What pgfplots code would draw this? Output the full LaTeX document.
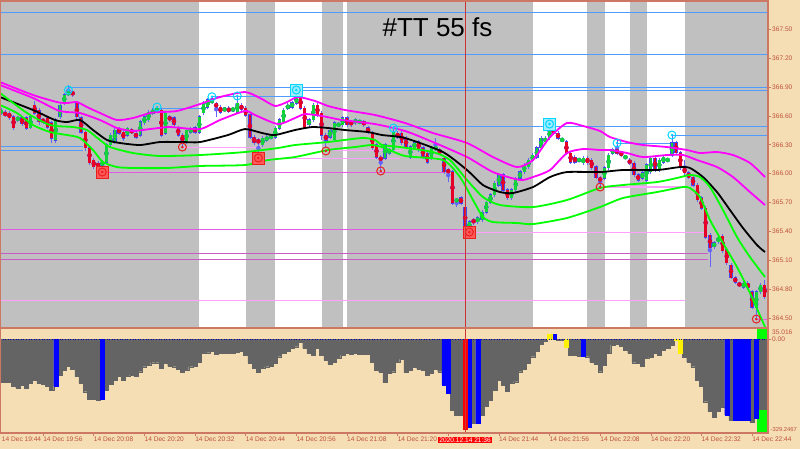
\documentclass[border=0pt]{standalone}
\usepackage{pgfplots}
\pgfplotsset{compat=1.18}
\usepackage{pgfplotstable}
\usepackage{fontspec}
\setmainfont{Liberation Sans}
\definecolor{wheat}{RGB}{245,222,179}
\definecolor{chartgray}{RGB}{192,192,192}
\definecolor{framered}{RGB}{205,120,100}
\definecolor{lbl}{RGB}{190,80,60}
\definecolor{hblue}{RGB}{80,155,255}
\definecolor{hpink}{RGB}{255,160,255}
\definecolor{hmag}{RGB}{225,90,225}
\definecolor{hviol}{RGB}{200,90,200}
\definecolor{indmag}{RGB}{255,0,255}
\definecolor{indgreen}{RGB}{0,255,0}
\definecolor{cgreen}{RGB}{20,210,60}
\definecolor{cred}{RGB}{230,0,40}
\definecolor{cblue}{RGB}{70,70,240}
\definecolor{wick}{RGB}{100,100,250}
\definecolor{histgray}{RGB}{100,100,100}
\definecolor{markcyan}{RGB}{0,215,255}
\definecolor{markcyanfill}{RGB}{160,235,255}
\definecolor{markred}{RGB}{235,30,30}
\definecolor{markredfill}{RGB}{255,90,90}
\definecolor{cursor}{RGB}{205,50,50}
\tikzset{tlbl/.style={font=\fontsize{6.6}{8}\selectfont, text=lbl}}
\pgfplotstableread{
t o h l c k
2 366.64 366.68 366.61 366.65 1
3 366.63 366.66 366.59 366.61 0
4 366.63 366.65 366.56 366.58 0
5 366.59 366.61 366.45 366.48 0
6 366.56 366.60 366.54 366.58 1
7 366.58 366.60 366.50 366.52 0
8 366.58 366.60 366.45 366.47 0
9 366.48 366.61 366.46 366.59 1
10 366.71 366.75 366.61 366.63 0
11 366.66 366.68 366.51 366.54 0
12 366.56 366.58 366.52 366.54 0
13 366.58 366.60 366.46 366.48 0
14 366.53 366.55 366.32 366.37 0
15 366.35 366.58 366.32 366.56 1
16 366.59 366.73 366.57 366.71 1
17 366.73 366.84 366.71 366.82 1
18 366.83 366.92 366.81 366.84 1
19 366.85 366.87 366.80 366.82 0
20 366.73 366.76 366.57 366.59 0
21 366.58 366.60 366.41 366.43 0
22 366.43 366.45 366.24 366.27 0
23 366.27 366.29 366.09 366.11 0
24 366.14 366.16 366.05 366.07 0
25 366.11 366.13 366.05 366.07 0
26 366.09 366.14 366.04 366.12 1
27 366.12 366.32 366.10 366.30 1
28 366.30 366.42 366.28 366.40 1
29 366.33 366.47 366.31 366.45 1
30 366.47 366.49 366.40 366.42 0
31 366.43 366.45 366.34 366.37 0
32 366.40 366.49 366.38 366.47 1
33 366.45 366.47 366.41 366.43 0
34 366.42 366.44 366.36 366.38 0
35 366.40 366.56 366.38 366.54 1
36 366.53 366.61 366.51 366.59 1
37 366.56 366.66 366.54 366.64 1
38 366.63 366.68 366.61 366.66 1
39 366.65 366.70 366.63 366.68 1
40 366.66 366.68 366.38 366.40 0
41 366.42 366.65 366.40 366.63 1
42 366.59 366.61 366.54 366.56 0
43 366.58 366.60 366.49 366.51 0
44 366.48 366.50 366.38 366.40 0
45 366.40 366.42 366.28 366.33 0
46 366.33 366.47 366.31 366.45 1
47 366.43 366.49 366.41 366.47 1
48 366.48 366.50 366.41 366.43 0
49 366.43 366.61 366.41 366.59 1
50 366.63 366.75 366.61 366.73 1
51 366.69 366.79 366.67 366.77 1
52 366.74 366.81 366.72 366.77 1
53 366.73 366.75 366.59 366.69 0
54 366.69 366.71 366.62 366.64 0
55 366.665 366.69 366.65 366.67 1
56 366.68 366.70 366.63 366.65 0
57 366.665 366.69 366.64 366.67 1
58 366.64 366.81 366.62 366.73 1
59 366.71 366.73 366.65 366.67 0
60 366.68 366.70 366.59 366.61 0
61 366.61 366.63 366.36 366.38 0
62 366.38 366.40 366.30 366.32 0
63 366.35 366.37 366.16 366.32 0
64 366.30 366.39 366.28 366.37 1
65 366.35 366.40 366.33 366.38 1
66 366.38 366.40 366.36 366.385 1
67 366.38 366.49 366.36 366.47 1
68 366.47 366.58 366.45 366.56 1
69 366.54 366.68 366.52 366.66 1
70 366.68 366.73 366.66 366.71 1
71 366.69 366.76 366.67 366.74 1
72 366.73 366.87 366.71 366.80 1
73 366.80 366.83 366.66 366.68 0
74 366.68 366.70 366.46 366.48 0
75 366.51 366.58 366.49 366.56 1
76 366.56 366.73 366.54 366.71 1
77 366.71 366.73 366.59 366.61 0
78 366.63 366.65 366.35 366.40 0
79 366.40 366.42 366.27 366.35 0
80 366.38 366.47 366.36 366.45 1
81 366.35 366.55 366.33 366.53 1
82 366.505 366.53 366.49 366.51 1
83 366.51 366.60 366.49 366.58 1
84 366.58 366.60 366.49 366.51 0
85 366.54 366.56 366.49 366.51 0
86 366.53 366.58 366.51 366.56 1
87 366.535 366.56 366.52 366.54 1
88 366.54 366.56 366.49 366.51 0
89 366.48 366.50 366.41 366.43 0
90 366.42 366.44 366.25 366.27 0
91 366.30 366.32 366.15 366.17 0
92 366.17 366.19 366.04 366.14 0
93 366.16 366.32 366.14 366.30 1
94 366.21 366.27 366.19 366.25 1
95 366.25 366.46 366.23 366.43 1
96 366.42 366.44 366.36 366.38 0
97 366.42 366.44 366.30 366.32 0
98 366.37 366.39 366.26 366.28 0
99 366.17 366.30 366.15 366.28 1
100 366.27 366.34 366.25 366.32 1
101 366.33 366.35 366.23 366.25 0
102 366.27 366.29 366.15 366.17 0
103 366.21 366.23 366.10 366.12 0
104 366.16 366.29 366.14 366.27 1
105 366.25 366.37 366.23 366.28 1
106 366.25 366.27 366.19 366.21 0
107 366.16 366.18 366.00 366.02 0
108 366.04 366.06 365.91 366.01 0
109 366.02 366.04 365.67 365.69 0
110 365.72 365.74 365.65 365.725 1
111 365.75 365.77 365.67 365.69 0
112 365.65 365.67 365.41 365.43 0
113 365.43 365.52 365.40 365.50 1
114 365.52 365.54 365.47 365.49 0
115 365.50 365.56 365.48 365.54 1
116 365.52 365.62 365.50 365.60 1
117 365.60 365.72 365.58 365.70 1
118 365.70 365.80 365.68 365.78 1
119 365.78 365.92 365.76 365.90 1
120 365.88 366.01 365.86 365.99 1
121 365.99 366.01 365.81 365.83 0
122 365.83 365.85 365.73 365.75 0
123 365.75 365.85 365.73 365.83 1
124 365.83 365.97 365.81 365.95 1
125 365.95 366.04 365.93 366.02 1
126 366.02 366.11 366.00 366.09 1
127 366.07 366.16 366.05 366.14 1
128 366.14 366.21 366.12 366.19 1
129 366.17 366.29 366.15 366.27 1
130 366.27 366.39 366.25 366.37 1
131 366.33 366.39 366.31 366.37 1
132 366.37 366.53 366.35 366.45 1
133 366.45 366.47 366.40 366.42 0
134 366.42 366.44 366.35 366.37 0
135 366.35 366.37 366.33 366.355 1
136 366.33 366.35 366.19 366.21 0
137 366.21 366.23 366.10 366.12 0
138 366.17 366.19 366.10 366.12 0
139 366.14 366.16 366.12 366.145 1
140 366.11 366.18 366.09 366.16 1
141 366.16 366.18 366.09 366.11 0
142 366.14 366.16 366.04 366.06 0
143 366.07 366.09 365.94 365.96 0
144 365.95 365.97 365.86 365.93 0
145 365.95 366.08 365.93 366.06 1
146 366.06 366.21 366.04 366.19 1
147 366.21 366.27 366.19 366.25 1
148 366.25 366.35 366.19 366.21 0
149 366.22 366.24 366.17 366.19 0
150 366.17 366.19 366.15 366.175 1
151 366.14 366.16 366.09 366.11 0
152 366.11 366.13 365.97 365.99 0
153 365.99 366.01 365.91 365.93 0
154 365.95 366.03 365.93 366.01 1
155 365.93 366.11 365.91 366.09 1
156 366.02 366.18 366.00 366.16 1
157 366.16 366.18 366.02 366.04 0
158 366.04 366.16 366.02 366.14 1
159 366.12 366.19 366.10 366.17 1
160 366.14 366.16 366.12 366.145 1
161 366.19 366.41 366.17 366.32 1
162 366.32 366.34 366.20 366.22 0
163 366.22 366.24 366.04 366.06 0
164 366.06 366.14 365.99 366.01 0
165 366.01 366.03 365.94 365.96 0
166 365.96 365.98 365.86 365.88 0
167 365.88 365.90 365.71 365.73 0
168 365.75 365.77 365.62 365.64 0
169 365.64 365.66 365.32 365.34 0
170 365.36 365.38 365.03 365.23 0
171 365.24 365.30 365.22 365.28 1
172 365.29 365.36 365.27 365.34 1
173 365.35 365.37 365.18 365.20 0
174 365.21 365.23 365.05 365.07 0
175 365.05 365.07 364.90 364.92 0
176 364.92 364.94 364.85 364.87 0
177 364.85 364.87 364.83 364.845 0
178 364.82 364.88 364.80 364.86 1
179 364.86 364.88 364.79 364.81 0
180 364.77 364.79 364.59 364.61 0
181 364.61 364.79 364.50 364.77 1
182 364.77 364.86 364.75 364.84 1
183 364.84 364.89 364.70 364.72 0
}\candles
% col: 0 gray, 1 blue, 2 red, 3 yellow
\pgfplotstableread{
t v col
2 -152 0
3 -152 0
4 -152 0
5 -166 0
6 -172 0
7 -160 0
8 -172 0
9 -155 0
10 -143 0
11 -155 0
12 -157 0
13 -166 0
14 -178 0
15 -164 1
16 -125 0
17 -108 0
18 -93 0
19 -106 0
20 -131 0
21 -155 0
22 -184 0
23 -210 0
24 -211 0
25 -213 0
26 -211 1
27 -178 0
28 -157 0
29 -143 0
30 -131 0
31 -143 0
32 -131 0
33 -125 0
34 -131 0
35 -114 0
36 -96 0
37 -90 0
38 -82 0
39 -82 0
40 -102 0
41 -84 0
42 -94 0
43 -96 0
44 -106 0
45 -116 0
46 -108 0
47 -96 0
48 -94 0
49 -79 0
50 -49 0
51 -47 0
52 -41 0
53 -52 0
54 -49 0
55 -49 0
56 -49 0
57 -49 0
58 -44 0
59 -41 0
60 -55 0
61 -84 0
62 -102 0
63 -116 0
64 -100 0
65 -96 0
66 -93 0
67 -84 0
68 -61 0
69 -49 0
70 -43 0
71 -32 0
72 -26 0
73 -11 0
74 -32 0
75 -49 0
76 -55 0
77 -32 0
78 -55 0
79 -73 0
80 -88 0
81 -79 0
82 -67 0
83 -55 0
84 -49 0
85 -53 0
86 -49 0
87 -53 0
88 -53 0
89 -53 0
90 -79 0
91 -108 0
92 -116 0
93 -152 0
94 -120 0
95 -114 0
96 -79 0
97 -70 0
98 -117 0
99 -108 0
100 -98 0
101 -106 0
102 -110 0
103 -125 0
104 -120 0
105 -106 0
106 -114 0
107 -160 1
108 -188 1
109 -248 0
110 -266 0
111 -266 0
112 -316 2
113 -309 1
114 -295 0
115 -295 1
116 -266 0
117 -234 0
118 -213 0
119 -178 0
120 -143 0
121 -160 0
122 -181 0
123 -155 0
124 -149 0
125 -114 0
126 -106 0
127 -84 0
128 -61 0
129 -43 0
130 -16 0
131 -8 0
132 18 3
133 18 1
134 -4 0
135 -3 0
136 -26 3
137 -55 0
138 -55 0
139 -59 0
140 -59 1
141 -61 0
142 -79 0
143 -87 0
144 -114 0
145 -90 0
146 -49 0
147 -20 0
148 -16 0
149 -23 0
150 -38 0
151 -49 0
152 -82 0
153 -84 0
154 -94 0
155 -67 0
156 -63 0
157 -49 0
158 -55 0
159 -38 0
160 -32 0
161 -20 0
162 -2 3
163 -49 3
164 -63 0
165 -79 0
166 -96 0
167 -143 0
168 -166 0
169 -219 0
170 -254 0
171 -274 0
172 -254 0
173 -239 0
174 -266 1
175 -283 0
176 -283 1
177 -283 1
178 -283 1
179 -283 1
180 -292 0
181 -278 1
182 -246 0
183 -246 0
}\hist
\begin{document}
\begin{tikzpicture}[x=1pt,y=1pt]
\useasboundingbox (0,0) rectangle (800,449);
\fill[wheat] (0,0) rectangle (800,449);
% ---------------- price panel ----------------
\begin{axis}[
  at={(0pt,121pt)}, anchor=south west, scale only axis,
  width=768pt, height=327pt,
  xmin=1.78, xmax=183.77, ymin=364.394, ymax=367.795,
  axis background/.style={fill=chartgray},
  axis line style={draw=framered, line width=1.2pt},
  axis on top,
  clip mode=individual,
  xtick=\empty,
  ytick={364.5,364.8,365.1,365.4,365.7,366.0,366.3,366.6,366.9,367.2,367.5},
  yticklabels={364.50,364.80,365.10,365.40,365.70,366.00,366.30,366.60,366.90,367.20,367.50},
  ytick pos=right, tick align=outside, major tick length=3pt,
  tick style={draw=framered, line width=0.6pt},
  yticklabel style={tlbl, inner xsep=1pt},
]
% session bands
\addplot[fill=white, draw=none, forget plot] coordinates {(48.93,364) (60.07,364) (60.07,368) (48.93,368)} -- cycle;
\addplot[fill=white, draw=none, forget plot] coordinates {(66.94,364) (78.08,364) (78.08,368) (66.94,368)} -- cycle;
\addplot[fill=white, draw=none, forget plot] coordinates {(83.06,364) (84.00,364) (84.00,368) (83.06,368)} -- cycle;
\addplot[fill=white, draw=none, forget plot] coordinates {(128.0,364) (140.88,364) (140.88,368) (128.0,368)} -- cycle;
\addplot[fill=white, draw=none, forget plot] coordinates {(145.07,364) (151.07,364) (151.07,368) (145.07,368)} -- cycle;
\addplot[fill=white, draw=none, forget plot] coordinates {(155.02,364) (164.03,364) (164.03,368) (155.02,368)} -- cycle;
% horizontal levels
\addplot[hblue, line width=0.8pt] coordinates {(1.78,367.677) (183.77,367.677)};
\addplot[hblue, line width=0.8pt] coordinates {(1.78,367.240) (183.77,367.240)};
\addplot[hblue, line width=0.8pt] coordinates {(18,366.897) (183.77,366.897)};
\addplot[hblue, line width=0.8pt] coordinates {(72,366.869) (183.77,366.869)};
\addplot[hblue, line width=0.8pt] coordinates {(39,366.682) (49.7,366.682)};
\addplot[hblue, line width=0.8pt] coordinates {(52,366.799) (71.7,366.799)};
\addplot[hblue, line width=0.8pt] coordinates {(95,366.489) (183.77,366.489)};
\addplot[hblue, line width=0.8pt] coordinates {(161,366.398) (183.77,366.398)};
\addplot[hblue, line width=0.8pt] coordinates {(148,366.318) (161,366.318)};
\addplot[hblue, line width=0.8pt] coordinates {(1.78,366.279) (21.4,366.279)};
\addplot[hblue, line width=0.8pt] coordinates {(1.78,366.245) (21.4,366.245)};
\addplot[hmag, line width=1pt] coordinates {(26,366.013) (107.2,366.013)};
\addplot[hpink, line width=1.5pt] coordinates {(45,366.269) (63.4,366.269)};
\addplot[hpink, line width=1.5pt] coordinates {(63,366.159) (96.5,366.159)};
\addplot[hpink, line width=1.5pt] coordinates {(79,366.238) (97,366.238)};
\addplot[hpink, line width=1.5pt] coordinates {(144,365.863) (165,365.863)};
\addplot[hmag, line width=1pt] coordinates {(1.78,365.420) (112,365.420)};
\addplot[hpink, line width=1.5pt] coordinates {(113,365.389) (169,365.389)};
\addplot[hviol, line width=0.8pt] coordinates {(1.78,365.174) (169.6,365.174)};
\addplot[hviol, line width=0.8pt] coordinates {(1.78,365.108) (169.6,365.108)};
\addplot[hpink, line width=1.5pt] coordinates {(1.78,364.678) (164.1,364.678)};
\addplot[hmag, line width=1pt] coordinates {(181,364.484) (183.77,364.484)};
% candles: wicks, outlines, bodies
\addplot[color=wick, only marks, mark=none, error bars/.cd, y dir=both, y explicit, error mark=none,
  error bar style={color=wick, line width=0.8pt}]
  table[x=t, y expr={(\thisrow{h}+\thisrow{l})/2}, y error expr={(\thisrow{h}-\thisrow{l})/2}] {\candles};
\addplot[color=cblue, only marks, mark=none, error bars/.cd, y dir=both, y explicit, error mark=none,
  error bar style={color=cblue, line width=3.3pt}]
  table[x=t, y expr={(\thisrow{o}+\thisrow{c})/2}, y error expr={abs(\thisrow{o}-\thisrow{c})/2+0.005}] {\candles};
\addplot[color=cgreen, only marks, mark=none, restrict expr to domain={\thisrow{k}}{0.5:1.5}, error bars/.cd, y dir=both, y explicit, error mark=none,
  error bar style={color=cgreen, line width=2.6pt}]
  table[x=t, y expr={(\thisrow{o}+\thisrow{c})/2}, y error expr={abs(\thisrow{o}-\thisrow{c})/2}] {\candles};
\addplot[color=cred, only marks, mark=none, restrict expr to domain={\thisrow{k}}{-0.5:0.5}, error bars/.cd, y dir=both, y explicit, error mark=none,
  error bar style={color=cred, line width=2.6pt}]
  table[x=t, y expr={(\thisrow{o}+\thisrow{c})/2}, y error expr={abs(\thisrow{o}-\thisrow{c})/2}] {\candles};
% envelope / moving average lines
\addplot[indmag, line width=1.8pt, smooth, tension=0.4] table {
t p
1.78 366.952
9.60 366.817
15.28 366.744
17.65 366.734
20.02 366.744
22.39 366.692
25.47 366.630
29.50 366.557
33.29 366.578
37.32 366.630
39.69 366.640
43.72 366.651
49.17 366.723
53.91 366.796
59.83 366.848
63.39 366.786
66.94 366.703
69.79 366.744
72.39 366.796
76.42 366.755
79.50 366.703
83.53 366.661
90.64 366.609
97.75 366.526
104.38 366.422
112.44 366.318
118.60 366.172
124.29 366.068
128.08 366.141
132.11 366.380
136.14 366.526
139.93 366.495
143.96 366.443
146.33 366.380
150.36 366.328
154.15 366.297
159.83 366.276
164.57 366.245
167.65 366.214
171.68 366.224
175.47 366.193
179.50 366.110
183.06 365.964
};
\addplot[indmag, line width=1.8pt, smooth, tension=0.4] table {
t p
1.78 366.921
9.60 366.786
15.28 366.661
17.65 366.640
20.73 366.630
25.47 366.557
29.50 366.474
33.29 366.443
37.32 366.463
42.06 366.484
49.17 366.463
53.91 366.557
59.83 366.651
62.20 366.609
67.65 366.515
71.68 366.578
74.05 366.619
78.08 366.599
82.82 366.557
90.64 366.515
97.75 366.443
104.38 366.328
112.44 366.172
118.60 366.016
125.00 365.933
128.08 365.964
132.11 366.037
136.14 366.214
139.93 366.255
143.96 366.245
146.33 366.245
150.36 366.214
154.15 366.172
159.83 366.193
163.63 366.193
166.94 366.141
171.68 366.068
175.47 365.964
179.50 365.808
183.06 365.673
};
\addplot[black, line width=1.8pt, smooth, tension=0.4] table {
t p
1.78 366.796
9.60 366.661
14.81 366.557
17.65 366.536
20.73 366.557
23.82 366.453
27.13 366.349
30.21 366.318
34.95 366.297
39.69 366.328
45.14 366.328
49.17 366.328
55.81 366.401
59.83 366.463
63.86 366.422
66.94 366.401
71.68 366.453
75.71 366.484
79.50 366.474
83.53 366.453
88.98 366.432
92.30 366.401
97.75 366.370
106.75 366.224
112.44 366.037
116.23 365.881
120.26 365.808
123.34 365.798
128.08 365.860
132.11 365.964
136.14 366.016
143.96 366.016
149.41 366.037
157.47 366.037
162.91 366.068
165.28 366.058
168.36 365.964
171.68 365.808
174.76 365.621
177.84 365.434
181.16 365.257
183.06 365.184
};
\addplot[indgreen, line width=1.8pt, smooth, tension=0.4] table {
t p
1.78 366.838
8.18 366.630
13.63 366.505
19.08 366.484
22.39 366.453
25.47 366.349
27.84 366.276
33.29 366.214
39.69 366.183
49.17 366.193
59.83 366.224
67.65 366.266
71.68 366.297
79.50 366.328
87.56 366.370
90.64 366.349
92.30 366.297
96.56 366.276
104.38 366.224
108.41 366.141
112.44 365.933
116.23 365.756
120.26 365.673
128.08 365.652
136.14 365.725
143.96 365.850
149.41 365.881
157.47 365.912
162.20 365.954
165.28 365.985
167.65 365.964
170.02 365.860
173.10 365.621
176.42 365.340
179.50 365.132
183.06 364.924
};
\addplot[indgreen, line width=1.8pt, smooth, tension=0.4] table {
t p
1.78 366.713
5.81 366.630
9.60 366.505
13.63 366.432
17.65 366.401
20.73 366.370
23.82 366.245
26.18 366.120
29.50 366.068
33.29 366.058
41.35 366.058
49.17 366.079
59.83 366.089
65.28 366.141
71.68 366.172
79.50 366.245
85.90 366.276
89.93 366.297
93.01 366.266
97.75 366.183
106.75 366.141
110.78 365.964
113.86 365.725
116.23 365.548
118.60 365.496
124.29 365.486
128.08 365.475
136.14 365.538
143.96 365.652
149.41 365.746
157.47 365.808
163.63 365.860
165.28 365.850
167.65 365.756
170.02 365.517
173.10 365.278
176.42 365.028
179.50 364.758
183.06 364.404
};
% signal markers
\addplot[only marks, mark=square*, mark size=6pt, mark options={draw=markcyan, fill=markcyanfill, line width=1pt}] coordinates {(72,366.869) (132,366.515)};
\addplot[only marks, mark=square*, mark size=6pt, mark options={draw=markred, fill=markredfill, line width=1pt}] coordinates {(26,366.016) (63,366.162) (113,365.392)};
\addplot[only marks, mark=o, mark size=4pt, mark options={draw=markcyan, line width=1pt}] coordinates {(18,366.869) (39,366.692) (52,366.799) (58,366.807) (95,366.474) (148,366.318) (161,366.401) (72,366.869) (132,366.515)};
\addplot[only marks, mark=*, mark size=1.1pt, mark options={draw=markcyan, fill=markcyan}] coordinates {(18,366.869) (39,366.692) (52,366.799) (58,366.807) (95,366.474) (148,366.318) (161,366.401) (72,366.869) (132,366.515)};
\addplot[only marks, mark=o, mark size=4pt, mark options={draw=markred, line width=1pt}] coordinates {(45,366.276) (79,366.235) (92,366.027) (144,365.860) (181,364.487) (26,366.016) (63,366.162) (113,365.392)};
\addplot[only marks, mark=*, mark size=1.1pt, mark options={draw=markred, fill=markred}] coordinates {(45,366.276) (79,366.235) (92,366.027) (144,365.860) (181,364.487) (26,366.016) (63,366.162) (113,365.392)};
% cursor
\addplot[cursor, line width=0.8pt] coordinates {(112,364.3) (112,367.9)};
\end{axis}
\node[anchor=base, font=\fontsize{26}{30}\selectfont, text=black] at (437.5,412) {\#TT 55 fs};
% ---------------- histogram panel ----------------
\begin{axis}[
  at={(0pt,16pt)}, anchor=south west, scale only axis,
  width=768pt, height=105pt,
  xmin=1.78, xmax=183.77, ymin=-329.25, ymax=39.7,
  axis background/.style={fill=wheat},
  axis line style={draw=framered, line width=1.2pt},
  axis on top,
  clip mode=individual,
  xtick={12,24,...,180},
  xticklabels={14 Dec 19:56,14 Dec 20:08,14 Dec 20:20,14 Dec 20:32,14 Dec 20:44,14 Dec 20:56,14 Dec 21:08,14 Dec 21:20,{},14 Dec 21:44,14 Dec 21:56,14 Dec 22:08,14 Dec 22:20,14 Dec 22:32,14 Dec 22:44},
  xtick pos=bottom, ytick pos=right,
  ytick={0}, yticklabels={0.00},
  tick align=outside, major tick length=3pt,
  tick style={draw=framered, line width=0.6pt},
  xticklabel style={tlbl, anchor=north west, inner sep=1pt, xshift=-1pt},
  yticklabel style={tlbl, inner xsep=1pt},
]
\addplot[fill=indgreen, draw=none] coordinates {(181.1,-340) (184,-340) (184,50) (181.1,50)} -- cycle;
\addplot[ybar, bar width=1, bar shift=0pt, fill=histgray, draw=histgray, line width=0.2pt, restrict expr to domain={\thisrow{col}}{-0.5:0.5}] table[x=t, y=v] {\hist};
\addplot[ybar, bar width=1, bar shift=0pt, fill=blue, draw=blue, line width=0.2pt, restrict expr to domain={\thisrow{col}}{0.5:1.5}] table[x=t, y=v] {\hist};
\addplot[ybar, bar width=1, bar shift=0pt, fill=red, draw=red, line width=0.2pt, restrict expr to domain={\thisrow{col}}{1.5:2.5}] table[x=t, y=v] {\hist};
\addplot[ybar, bar width=1, bar shift=0pt, fill=yellow, draw=yellow, line width=0.2pt, restrict expr to domain={\thisrow{col}}{2.5:3.5}] table[x=t, y=v] {\hist};
\addplot[blue!70!black, dotted, line width=0.6pt] coordinates {(1.78,0) (183.77,0)};
\addplot[cursor, line width=0.8pt] coordinates {(112,-340) (112,50)};
\node[tlbl, anchor=north west, inner sep=1pt, yshift=-3pt] at (axis cs:1.95,-329.25) {14 Dec 19:44};
\node[font=\fontsize{6.6}{8}\selectfont, text=white, fill=red, inner xsep=1.5pt, inner ysep=1pt, anchor=north, yshift=-3.5pt] at (axis cs:112,-329.25) {2020.12.14 21:36};
\node[tlbl, anchor=north west, inner sep=1pt, xshift=3pt, yshift=-1pt] at (rel axis cs:1,1) {35.016};
\node[font=\fontsize{5.8}{7}\selectfont, text=lbl, anchor=south west, inner sep=0.5pt, xshift=2pt, yshift=1pt] at (rel axis cs:1,0) {-329.2467};
\end{axis}
\end{tikzpicture}
\end{document}
